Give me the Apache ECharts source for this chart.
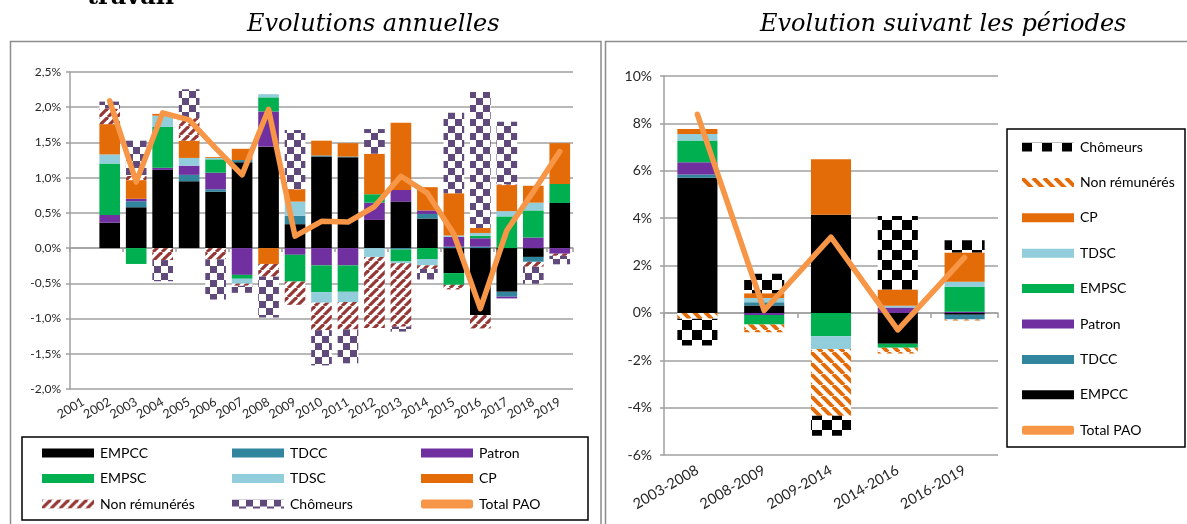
<!DOCTYPE html>
<html>
<head>
<meta charset="utf-8">
<script src="https://cdn.jsdelivr.net/npm/echarts@6/dist/echarts.min.js"></script>
<style>
  html, body { margin: 0; padding: 0; background: #fff; width: 1187px; height: 524px; overflow: hidden; }
  #annual { position: absolute; left: 0; top: 0; width: 602px; height: 524px; }
  #periods { position: absolute; left: 602px; top: 0; width: 585px; height: 524px; }
</style>
</head>
<body>
<div id="annual"></div>
<div id="periods"></div>
<script>
// ---- Annual contributions (percentage points) ----
const years = ['2001','2002','2003','2004','2005','2006','2007','2008','2009','2010',
               '2011','2012','2013','2014','2015','2016','2017','2018','2019'];
const yEMPCC  = [null, 0.36, 0.58, 1.11, 0.95, 0.80, 1.22, 1.44, 0.34, 1.30, 1.29, 0.40, 0.66, 0.42, -0.355, -0.95, -0.62, -0.125, 0.64];
const yTDCC   = [null, 0, 0.085, 0, 0.09, 0.035, 0.03, 0, 0.12, 0.015, 0.01, 0, -0.02, 0.065, 0.02, 0.02, -0.07, -0.07, 0];
const yPatron = [null, 0.11, 0.035, 0.03, 0.13, 0.235, -0.38, 0.50, -0.095, -0.245, -0.245, 0.245, 0.165, 0.05, 0.14, 0.12, -0.024, 0.15, -0.08];
const yEMPSC  = [null, 0.73, -0.225, 0.58, 0, 0.19, -0.055, 0.20, -0.38, -0.38, -0.375, 0.12, -0.17, -0.155, -0.166, 0.035, 0.45, 0.385, 0.27];
const yTDSC   = [null, 0.13, 0, 0.16, 0.11, 0.02, -0.07, 0.045, 0.20, -0.15, -0.145, -0.125, -0.025, -0.09, 0.02, 0.04, 0.075, 0.11, 0];
const yCP     = [null, 0.43, 0.265, 0.025, 0.245, 0.012, 0.16, -0.225, 0.175, 0.21, 0.19, 0.575, 0.955, 0.33, 0.60, 0.07, 0.37, 0.24, 0.58];
const yNonRem = [null, 0.22, 0.06, -0.17, 0.32, -0.16, -0.03, -0.18, -0.33, -0.39, -0.39, -1.01, -0.90, -0.05, -0.065, -0.19, 0.01, -0.07, -0.03];
const yChom   = [null, 0.10, 0.50, -0.30, 0.41, -0.57, -0.10, -0.58, 0.84, -0.50, -0.48, 0.35, -0.07, -0.15, 1.14, 1.93, 0.89, -0.24, -0.12];
const yTotal  = [null, 2.09, 0.94, 1.92, 1.82, 1.42, 1.04, 1.97, 0.17, 0.38, 0.37, 0.59, 1.02, 0.78, 0.20, -0.86, 0.25, 0.80, 1.37];

// ---- Contributions by period (percentage points) ----
const periods = ['2003-2008','2008-2009','2009-2014','2014-2016','2016-2019'];
const pEMPCC  = [5.70, 0.31, 4.14, -1.30, -0.08];
const pTDCC   = [0.14, 0.14, 0, 0, -0.20];
const pPatron = [0.52, -0.085, 0, 0.225, 0.05];
const pEMPSC  = [0.915, -0.41, -0.985, -0.17, 1.05];
const pTDSC   = [0.28, 0.18, -0.535, 0.08, 0.21];
const pCP     = [0.21, 0.20, 2.35, 0.68, 1.24];
const pNonRem = [-0.25, -0.32, -2.82, -0.25, -0.04];
const pChom   = [-1.13, 0.82, -0.845, 3.10, 0.52];
const pTotal  = [8.38, 0.10, 3.20, -0.72, 2.34];

const COL = {
  EMPCC: '#000000', TDCC: '#31859C', Patron: '#7030A0', EMPSC: '#00B050',
  TDSC: '#92CDDC', CP: '#E36C09', total: '#F79646'
};
const LABEL_FONT = 'Lato, "Open Sans", sans-serif';
const GRID_GREY = '#a0a0a0';

// Fill patterns for the hatched / checkered series
function checker(ink, cell) {
  const cv = document.createElement('canvas');
  cv.width = cv.height = cell * 2;
  const g = cv.getContext('2d');
  g.fillStyle = '#ffffff'; g.fillRect(0, 0, cell * 2, cell * 2);
  g.fillStyle = ink;
  g.fillRect(0, 0, cell, cell);
  g.fillRect(cell, cell, cell, cell);
  return { image: cv, repeat: 'repeat' };
}
function stripes(ink, period, thick, rising) {
  const cv = document.createElement('canvas');
  cv.width = cv.height = period;
  const g = cv.getContext('2d');
  g.fillStyle = '#ffffff'; g.fillRect(0, 0, period, period);
  g.strokeStyle = ink; g.lineWidth = thick;
  for (let k = -1; k <= 1; k++) {
    g.beginPath();
    if (rising) { g.moveTo(k * period, period); g.lineTo(k * period + period, 0); }
    else { g.moveTo(k * period, 0); g.lineTo(k * period + period, period); }
    g.stroke();
  }
  return { image: cv, repeat: 'repeat' };
}

function barSeries(name, data, color, gap) {
  return {
    name, type: 'bar', stack: 'contrib', data,
    barCategoryGap: gap,
    itemStyle: { color },
    emphasis: { disabled: true }
  };
}
function totalSeries(data) {
  return {
    name: 'Total PAO', type: 'line', data, symbol: 'none', z: 5,
    lineStyle: { color: COL.total, width: 5.5, cap: 'round', join: 'round' },
    itemStyle: { color: COL.total },
    emphasis: { disabled: true }
  };
}
function legendCol(names, left, top, gap, size) {
  return {
    orient: 'vertical', left, top, itemGap: gap, padding: 0,
    itemWidth: 52, itemHeight: 9, selectedMode: false,
    icon: 'rect',
    data: names.map(n => n === 'Total PAO' ? { name: n, icon: 'roundRect' } : n),
    lineStyle: { width: 5, cap: 'round' },
    textStyle: { fontFamily: LABEL_FONT, fontSize: size, color: '#000', lineHeight: 16, padding: [0, 0, 0, 1] }
  };
}

// ---------- Left chart: annual evolutions ----------
const annual = echarts.init(document.getElementById('annual'), null, { renderer: 'canvas' });
const gapA = '22%';
annual.setOption({
  animation: false,
  title: {
    text: 'Evolutions annuelles', left: 247, top: 13, padding: 0,
    textStyle: { fontFamily: '"DejaVu Serif", serif', fontStyle: 'italic', fontWeight: 'normal', fontSize: 24, color: '#000' }
  },
  graphic: [
    { type: 'text', left: 87, top: -14, silent: true,
      style: { text: 'travail', font: 'bold 24px "DejaVu Serif", serif', fill: '#000' } },
    { type: 'rect', silent: true, shape: { x: 10.5, y: 41.5, width: 590.5, height: 500 },
      style: { fill: 'none', stroke: '#8c8c8c', lineWidth: 1.5 } },
    { type: 'rect', silent: true, shape: { x: 22, y: 437, width: 566, height: 83 },
      style: { fill: 'none', stroke: '#000', lineWidth: 1.5 } }
  ],
  legend: [
    legendCol(['EMPCC', 'EMPSC', 'Non rémunérés'], 42, 445, 9.5, 14),
    legendCol(['TDCC', 'TDSC', 'Chômeurs'], 232, 445, 9.5, 14),
    legendCol(['Patron', 'CP', 'Total PAO'], 421, 445, 9.5, 14)
  ],
  grid: { left: 70, right: 29, top: 72, bottom: 135, outerBoundsMode: 'none' },
  xAxis: [
    { type: 'category', data: years, position: 'bottom',
      axisLine: { show: false, onZero: false }, axisTick: { show: false },
      axisLabel: { interval: 0, rotate: 30, margin: 12, fontFamily: LABEL_FONT, fontSize: 12.5, color: '#262626' },
      splitLine: { show: false } },
    { type: 'category', data: years, position: 'top',
      axisLine: { show: true, onZero: true, lineStyle: { color: GRID_GREY, width: 1.5 } },
      axisTick: { show: true, inside: true, length: 4, lineStyle: { color: GRID_GREY, width: 1.5 } },
      axisLabel: { show: false }, splitLine: { show: false } }
  ],
  yAxis: {
    type: 'value', min: -2, max: 2.5, interval: 0.5,
    axisLine: { show: true, lineStyle: { color: GRID_GREY, width: 1.5 } },
    axisTick: { show: true, length: 4, lineStyle: { color: GRID_GREY, width: 1.5 } },
    axisLabel: { fontFamily: LABEL_FONT, fontSize: 12, color: '#262626', margin: 9,
      formatter: v => v.toFixed(1).replace('.', ',') + '%' },
    splitLine: { show: true, lineStyle: { color: GRID_GREY, width: 1.5 } }
  },
  series: [
    barSeries('EMPCC', yEMPCC, COL.EMPCC, gapA),
    barSeries('TDCC', yTDCC, COL.TDCC, gapA),
    barSeries('Patron', yPatron, COL.Patron, gapA),
    barSeries('EMPSC', yEMPSC, COL.EMPSC, gapA),
    barSeries('TDSC', yTDSC, COL.TDSC, gapA),
    barSeries('CP', yCP, COL.CP, gapA),
    barSeries('Non rémunérés', yNonRem, stripes('#953735', 9, 3.2, true), gapA),
    barSeries('Chômeurs', yChom, checker('#604A7B', 7), gapA),
    totalSeries(yTotal)
  ]
});

// ---------- Right chart: evolution by period ----------
const byPeriod = echarts.init(document.getElementById('periods'), null, { renderer: 'canvas' });
const gapP = '40%';
byPeriod.setOption({
  animation: false,
  title: {
    text: 'Evolution suivant les périodes', left: 158, top: 13, padding: 0,
    textStyle: { fontFamily: '"DejaVu Serif", serif', fontStyle: 'italic', fontWeight: 'normal', fontSize: 24, color: '#000' }
  },
  graphic: [
    { type: 'rect', silent: true, shape: { x: 3.5, y: 41.5, width: 600, height: 500 },
      style: { fill: 'none', stroke: '#8c8c8c', lineWidth: 1.5 } },
    { type: 'rect', silent: true, shape: { x: 405, y: 129, width: 178, height: 318 },
      style: { fill: 'none', stroke: '#000', lineWidth: 1.5 } }
  ],
  legend: [
    legendCol(['Chômeurs', 'Non rémunérés', 'CP', 'TDSC', 'EMPSC', 'Patron', 'TDCC', 'EMPCC', 'Total PAO'],
              420, 139, 19.4, 14)
  ],
  grid: { left: 62, right: 189, top: 76, bottom: 69, outerBoundsMode: 'none' },
  xAxis: [
    { type: 'category', data: periods, position: 'bottom',
      axisLine: { show: false, onZero: false }, axisTick: { show: false },
      axisLabel: { interval: 0, rotate: 30, margin: 14, fontFamily: LABEL_FONT, fontSize: 14.5, color: '#262626' },
      splitLine: { show: false } },
    { type: 'category', data: periods, position: 'top',
      axisLine: { show: true, onZero: true, lineStyle: { color: GRID_GREY, width: 1.5 } },
      axisTick: { show: true, inside: true, length: 5, lineStyle: { color: GRID_GREY, width: 1.5 } },
      axisLabel: { show: false }, splitLine: { show: false } }
  ],
  yAxis: {
    type: 'value', min: -6, max: 10, interval: 2,
    axisLine: { show: true, lineStyle: { color: GRID_GREY, width: 1.5 } },
    axisTick: { show: true, length: 4, lineStyle: { color: GRID_GREY, width: 1.5 } },
    axisLabel: { fontFamily: LABEL_FONT, fontSize: 14, color: '#262626', margin: 12,
      formatter: v => v + '%' },
    splitLine: { show: true, lineStyle: { color: GRID_GREY, width: 1.5 } }
  },
  series: [
    barSeries('EMPCC', pEMPCC, COL.EMPCC, gapP),
    barSeries('TDCC', pTDCC, COL.TDCC, gapP),
    barSeries('Patron', pPatron, COL.Patron, gapP),
    barSeries('EMPSC', pEMPSC, COL.EMPSC, gapP),
    barSeries('TDSC', pTDSC, COL.TDSC, gapP),
    barSeries('CP', pCP, COL.CP, gapP),
    barSeries('Non rémunérés', pNonRem, stripes('#E36C09', 11, 4, false), gapP),
    barSeries('Chômeurs', pChom, checker('#000000', 10), gapP),
    totalSeries(pTotal)
  ]
});
</script>
</body>
</html>
